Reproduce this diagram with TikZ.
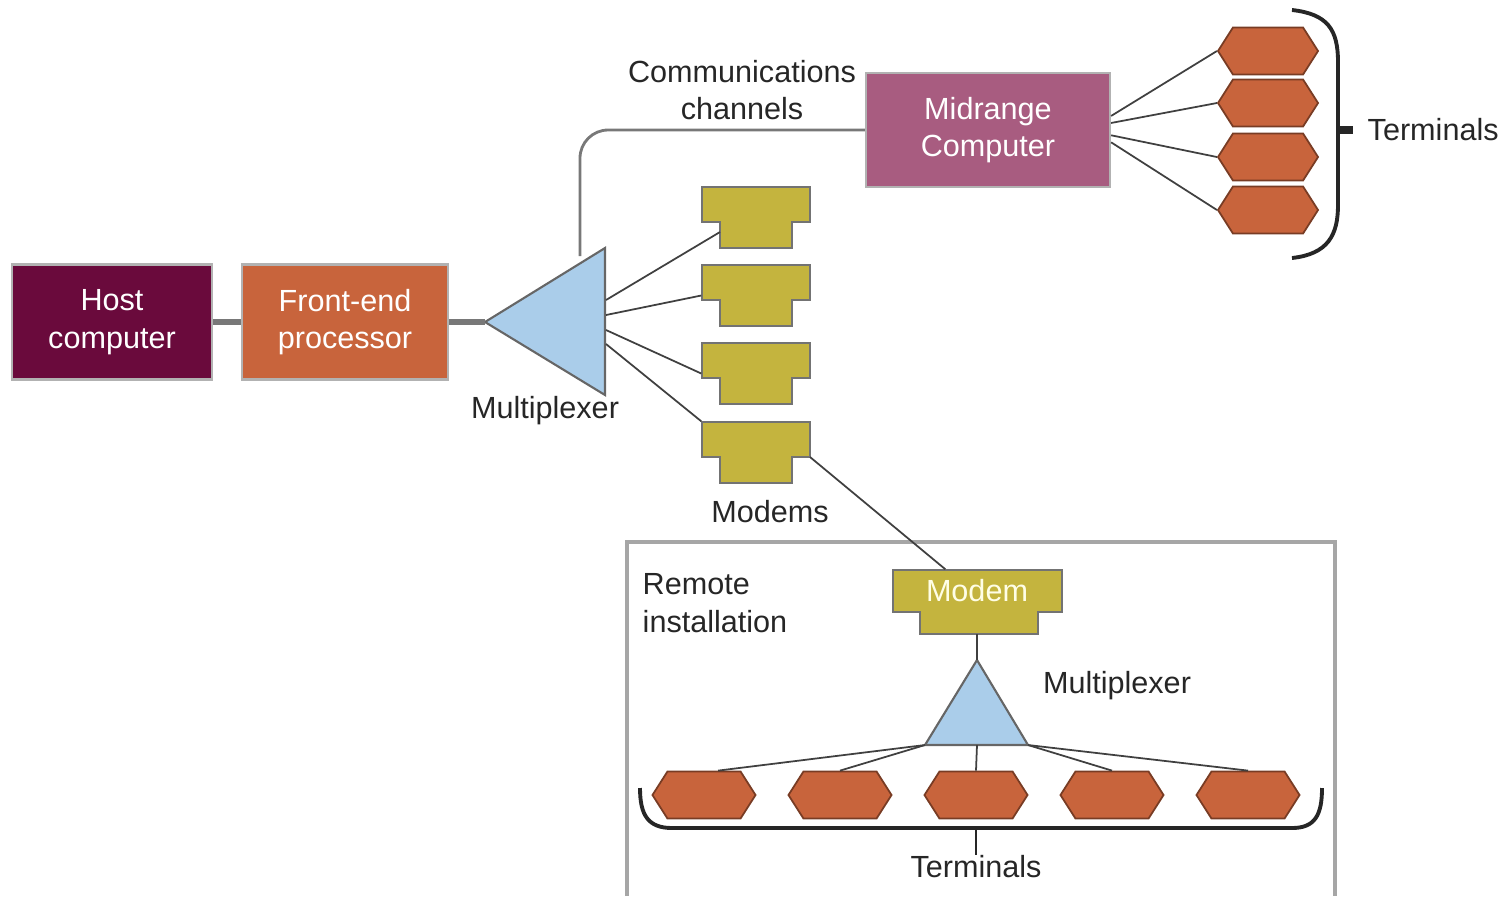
\documentclass[tikz,border=0pt]{standalone}
\usepackage{fontspec}
\setmainfont{Liberation Sans}
\usepackage{tikz}
\usetikzlibrary{shapes.symbols}
\definecolor{hostred}{RGB}{106,10,60}
\definecolor{fepbrown}{RGB}{200,100,60}
\definecolor{midmauve}{RGB}{168,92,128}
\definecolor{modemolive}{RGB}{196,180,62}
\definecolor{muxblue}{RGB}{170,205,234}
\definecolor{linegray}{RGB}{120,120,120}
\tikzset{
  box/.style={draw=gray!60, line width=0.6pt, text=white, align=center, inner sep=0},
  terminal/.style={signal, signal to=east and west, signal pointer angle=115,
    fill=fepbrown, draw=fepbrown!60!black, line width=0.5pt, minimum width=1cm, minimum height=0.47cm, inner sep=0},
  link/.style={draw=black!75, line width=0.5pt},
  fatlink/.style={draw=linegray, line width=1.5pt},
  lbl/.style={text=black!85, align=center, inner sep=0}
}
% modem: name, x and y of top left corner
\newcommand{\modem}[3]{
  \filldraw[fill=modemolive, draw=black!55, line width=0.6pt] (#2,#3) -- ++(108,0) -- ++(0,35) -- ++(-18,0) -- ++(0,26) -- ++(-72,0) -- ++(0,-26) -- ++(-18,0) -- cycle;
  \node[inner sep=0, minimum width=1.08cm, minimum height=0.61cm] (#1) at (#2+54,#3+30.5) {};
  \coordinate (#1-l) at (#2+18,#3+45);
  \coordinate (#1-r) at (#2+108,#3+35);
}

\begin{document}
\begin{tikzpicture}[x=0.01cm, y=-0.01cm, font=\fontsize{8.7}{10.6}\selectfont]
\useasboundingbox (0,0) rectangle (1506,896);

% remote installation frame
\draw[draw=gray!70, line width=0.9pt] (627,896) -- (627,542) -- (1335,542) -- (1335,896);
\node[lbl, align=left, anchor=west] (remote) at (642,603) {Remote\\installation};

% host side
\node[box, fill=hostred, minimum width=2cm, minimum height=1.15cm] (host) at (112,322) {Host\\computer};
\node[box, fill=fepbrown, minimum width=2.05cm, minimum height=1.15cm] (fep) at (345,322) {Front-end\\processor};
\draw[fatlink] (host.east) -- (fep.east -| fep.west);

% multiplexer
\coordinate (mux-tip) at (485,322);
\coordinate (mux-top) at (605,248);
\coordinate (mux-bot) at (605,395);
\filldraw[fill=muxblue, draw=black!60, line width=0.6pt] (mux-tip) -- (mux-top) -- (mux-bot) -- cycle;
\draw[fatlink] (fep.east) -- (mux-tip);
\node[lbl] (muxlbl) at (545,411) {Multiplexer};
\coordinate (mux-up) at (580,256);
\foreach \i/\y in {1/300,2/315,3/330,4/344} {
  \coordinate (mux-o\i) at (606,\y);
}

% midrange computer and its terminals
\node[box, fill=midmauve, minimum width=2.44cm, minimum height=1.14cm] (mid) at (988,130) {Midrange\\Computer};
\draw[draw=linegray, line width=0.8pt, rounded corners=8pt] (mux-up) |- (mid.west);
\node[lbl] (comm) at (742,90) {Communications\\channels};
\foreach \i/\y in {1/51,2/103,3/157,4/210} {
  \node[terminal] (t\i) at (1268,\y) {};
}
\draw[link] ([yshift=4pt]mid.east) -- (t1.west);
\draw[link] ([yshift=2pt]mid.east) -- (t2.west);
\draw[link] ([yshift=-1.5pt]mid.east) -- (t3.west);
\draw[link] ([yshift=-3.5pt]mid.east) -- (t4.west);
\draw[black!85, line width=1.1pt] (1292,10) .. controls (1328,14) and (1338,30) .. (1338,62) -- (1338,205) .. controls (1338,235) and (1328,254) .. (1292,258);
\coordinate (brace-top) at (1338,130);
\coordinate (brace-tick) at (1353,130);
\node[lbl, anchor=west] (termtop) at (1367,130) {Terminals};
\draw[black!85, line width=2pt] (brace-top) -- (brace-tick);

% modems
\foreach \i/\y in {1/187,2/265,3/343,4/422} {
  \modem{m\i}{702}{\y}
}
\node[lbl] (modemlbl) at (770,512) {Modems};
\draw[link] (mux-o1) -- (m1-l);
\draw[link] (mux-o2) -- (m2.west);
\draw[link] (mux-o3) -- (m3.west);
\draw[link] (mux-o4) -- (m4.north west);

% remote modem
\filldraw[fill=modemolive, draw=black!55, line width=0.6pt] (893,570) -- (1062,570) -- (1062,612) -- (1038,612) -- (1038,634) -- (920,634) -- (920,612) -- (893,612) -- cycle;
\node[inner sep=0, text=white!90!yellow, minimum width=1.69cm, minimum height=0.42cm] (rmodem) at (977,591) {Modem};
\coordinate (rmodem-b) at (977,634);
\draw[link] (m4-r) -- ([xshift=-9pt]rmodem.north);

% remote multiplexer
\coordinate (rmux-top) at (977,660);
\coordinate (rmux-l) at (925,745);
\coordinate (rmux-r) at (1028,745);
\coordinate (rmux-b) at (977,745);
\filldraw[fill=muxblue, draw=black!60, line width=0.6pt] (rmux-top) -- (rmux-r) -- (rmux-l) -- cycle;
\draw[link] (rmodem-b) -- (rmux-top);
\node[lbl] (rmuxlbl) at (1117,686) {Multiplexer};

% remote terminals
\foreach \i/\x in {1/704,2/840,3/976,4/1112,5/1248} {
  \node[terminal, minimum width=1.03cm] (rt\i) at (\x,795) {};
}
\draw[link] (rmux-l) -- ([xshift=4pt]rt1.north);
\draw[link] (rmux-l) -- (rt2.north);
\draw[link] (rmux-b) -- (rt3.north);
\draw[link] (rmux-r) -- (rt4.north);
\draw[link] (rmux-r) -- (rt5.north);
\draw[black!85, line width=1.1pt] (640,788) .. controls (640,815) and (648,828) .. (672,828) -- (1292,828) .. controls (1315,828) and (1322,815) .. (1322,788);
\coordinate (brace-bot) at (976,828);
\node[lbl] (termbot) at (976,867) {Terminals};
\draw[black!85, line width=0.6pt] (brace-bot) -- (termbot.north);
\end{tikzpicture}
\end{document}
